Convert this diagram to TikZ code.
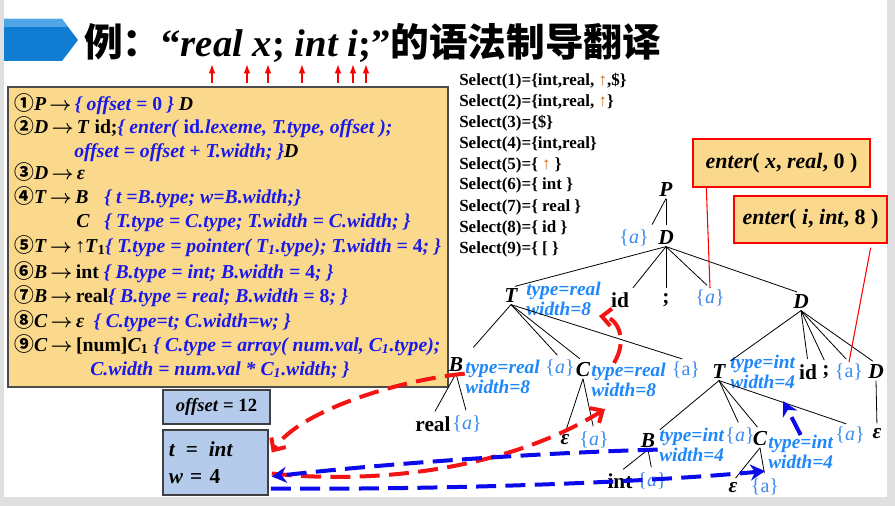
\documentclass[tikz,border=0pt]{standalone}
\usepackage{fontspec}
\setmainfont{Liberation Serif}
\newfontfamily\cjk{Noto Sans CJK SC}
\usetikzlibrary{arrows.meta,positioning,calc}

\definecolor{boxorange}{RGB}{250,216,140}
\definecolor{boxblue}{RGB}{180,203,235}
\definecolor{actblue}{RGB}{25,25,235}
\definecolor{attrblue}{RGB}{30,135,250}
\definecolor{setblue}{RGB}{60,140,240}
\definecolor{hdblue}{RGB}{15,125,210}
\definecolor{hdlight}{RGB}{80,165,230}
\definecolor{dashred}{RGB}{245,20,20}
\definecolor{dashblue}{RGB}{10,10,235}
\definecolor{selarrow}{RGB}{205,110,30}

\newcommand{\act}[1]{\textcolor{actblue}{\itshape #1}}
\newcommand{\cn}[1]{{\cjk\bfseries #1}}
\newcommand{\cnum}[1]{{\cjk\bfseries #1}}
\newcommand{\up}[1]{\textup{#1}}
\newcommand{\goesto}{\,{\boldmath$\rightarrow$}\,}

\begin{document}
\begin{tikzpicture}[x=0.75pt, y=-0.75pt,
  rule/.style={anchor=base west, inner sep=0pt, font=\bfseries\fontsize{14.8}{18}\selectfont},
  sel/.style={anchor=base west, inner sep=0pt, font=\bfseries\fontsize{12.75}{15}\selectfont},
  nt/.style={inner sep=1pt, font=\bfseries\itshape\fontsize{16}{16}\selectfont},
  term/.style={inner sep=1pt, font=\bfseries\fontsize{16}{16}\selectfont},
  sem/.style={inner sep=1pt, text=setblue, font=\fontsize{15}{15}\selectfont},
  attr/.style={anchor=west, inner sep=0pt, align=left, text=attrblue, font=\bfseries\itshape\fontsize{14.5}{15}\selectfont},
  branch/.style={line width=0.6pt, shorten >=3pt},
  enterbox/.style={draw=red, line width=1pt, fill=boxorange, inner sep=0pt, font=\bfseries\fontsize{16.5}{16.5}\selectfont},
  valbox/.style={draw=black!75, line width=1.2pt, fill=boxblue, inner sep=0pt},
  tokarr/.style={red, line width=1.1pt, -{Latex[length=7pt,width=5pt]}},
  rdash/.style={dashred, line width=3pt, dash pattern=on 15pt off 7pt, -{Straight Barb[length=7pt,width=13pt]}},
  bdash/.style={dashblue, line width=3pt, dash pattern=on 15pt off 7pt, -{Stealth[length=11pt,width=12pt]}}
]
\useasboundingbox (0,0) rectangle (895,506);
\fill[black!12] (0,0) rectangle (895,506);
\fill[white] (4,0) rectangle (887,497);

% title
\fill[hdblue] (4,19) -- (62,19) -- (78,40) -- (62,61) -- (4,61) -- cycle;
\fill[hdlight] (4,19) -- (62,19) -- (68,27) -- (4,27) -- cycle;
\node[anchor=base west, inner sep=0pt, font=\bfseries\fontsize{29}{29}\selectfont] (title) at (84,57)
  {\cn{例：}“\textit{real x}; \textit{int i};”\cn{的语法制导翻译}};
\foreach \x in {212,247,268,302,338,353,366}
  \draw[tokarr] (\x,83) -- (\x,64);

% productions
\draw[draw=black!70, line width=1.5pt, fill=boxorange] (8,87) rectangle (448,387);
\node[rule] (r1) at (14,111) {\cnum{①}\textit{P}\goesto\act{\{ offset = \up{0} \}} \textit{D}};
\node[rule] (r2) at (14,134) {\cnum{②}\textit{D}\goesto\textit{T} id;\act{\{ enter( \up{id}.lexeme, T.type, offset );}};
\node[rule] (r3) at (74,157) {\act{offset = offset + T.width; \}}\textit{D}};
\node[rule] (r4) at (14,180) {\cnum{③}\textit{D}\goesto\textit{ε}};
\node[rule] (r5) at (14,203) {\cnum{④}\textit{T}\goesto\textit{B}};
\node[rule] (r5a) at (104,203) {\act{\{ t =B.type; w=B.width;\}}};
\node[rule] (r6) at (76,227) {\textit{C}};
\node[rule] (r6a) at (104,227) {\act{\{ T.type = C.type; T.width = C.width; \}}};
\node[rule] (r7) at (14,252) {\cnum{⑤}\textit{T}\goesto↑\textit{T}\textsubscript{1}\act{\{ T.type = pointer( T\textsubscript{1}.type); T.width = \up{4}; \}}};
\node[rule] (r8) at (14,278) {\cnum{⑥}\textit{B}\goesto int \act{\{ B.type = int; B.width = \up{4}; \}}};
\node[rule] (r9) at (14,302) {\cnum{⑦}\textit{B}\goesto real\act{\{ B.type = real; B.width = \up{8}; \}}};
\node[rule] (r10) at (14,327) {\cnum{⑧}\textit{C}\goesto\textit{ε}\enspace\act{\{ C.type=t; C.width=w; \}}};
\node[rule] (r11) at (14,351) {\cnum{⑨}\textit{C}\goesto[num]\textit{C}\textsubscript{1} \act{\{ C.type = array( num.val, C\textsubscript{1}.type);}};
\node[rule] (r12) at (90,375) {\act{C.width = num.val * C\textsubscript{1}.width; \}}};

% select sets
\node[sel] (s1) at (459,86) {Select(1)=\{int,real, \textcolor{selarrow}{↑},\$\}};
\node[sel] (s2) at (459,107) {Select(2)=\{int,real, \textcolor{selarrow}{↑}\}};
\node[sel] (s3) at (459,128) {Select(3)=\{\$\}};
\node[sel] (s4) at (459,149) {Select(4)=\{int,real\}};
\node[sel] (s5) at (459,170) {Select(5)=\{ \textcolor{selarrow}{↑} \}};
\node[sel] (s6) at (459,190) {Select(6)=\{ int \}};
\node[sel] (s7) at (459,211) {Select(7)=\{ real \}};
\node[sel] (s8) at (459,232) {Select(8)=\{ id \}};
\node[sel] (s9) at (459,253) {Select(9)=\{ [ \}};

% parse tree
\node[nt] (nP) at (666,190) {P};
\node[sem] (naP) at (634,238) {\{\textit{a}\}};
\node[nt] (nD) at (666,238) {D};
\node[nt] (nT) at (511,296) {T};
\node[attr] (nTattr) at (526,299) {type=real\\width=8};
\node[term] (nid) at (620,300) {id};
\node[term] (nsemi) at (666,300) {;};
\node[sem] (na1) at (710,298) {\{\textit{a}\}};
\node[nt] (nD2) at (801,302) {D};

\node[nt] (nB) at (456,365) {B};
\node[attr] (nBattr) at (465,377) {type=real\\width=8};
\node[sem] (na2) at (560,368) {\{\textit{a}\}};
\node[nt] (nC) at (583,370) {C};
\node[attr] (nCattr) at (591,380) {type=real\\width=8};
\node[sem] (na3) at (686,370) {\{a\}};
\node[term] (nreal) at (433,424) {real};
\node[sem] (na4) at (467,424) {\{\textit{a}\}};
\node[nt] (neps1) at (565,440) {ε};
\node[sem] (na5) at (594,440) {\{\textit{a}\}};

\node[nt] (nT2) at (719,372) {T};
\node[attr] (nT2attr) at (730,372) {type=int\\width=4};
\node[term] (nid2) at (808,372) {id};
\node[term] (nsemi2) at (826,372) {;};
\node[sem] (na6) at (849,372) {\{a\}};
\node[nt] (nD3) at (876,372) {D};
\node[nt] (neps3) at (877,434) {ε};

\node[nt] (nB2) at (648,441) {B};
\node[attr] (nB2attr) at (659,445) {type=int\\width=4};
\node[sem] (na7) at (740,436) {\{\textit{a}\}};
\node[nt] (nC2) at (760,439) {C};
\node[attr] (nC2attr) at (768,452) {type=int\\width=4};
\node[sem] (na8) at (850,435) {\{\textit{a}\}};
\node[term] (nint) at (620,481) {int};
\node[sem] (na9) at (652,481) {\{\textit{a}\}};
\node[nt] (neps2) at (733,488) {ε};
\node[sem] (na10) at (765,487) {\{a\}};

\draw[branch] (nP.south) -- (naP.north east);
\draw[branch] (nP.south) -- (nD.north);
\foreach \c in {nT.north, nid.north east, nsemi.north, na1.north, nD2.north}
  \draw[branch] (nD.south) -- (\c);
\foreach \c in {na2.north, nC.north, na3.north}
  \draw[branch] (nT.south) -- (\c);
\draw[branch] (nT.south) -- ($(nB.north east)+(6,-6)$);
\draw[branch] (nB.south) -- (nreal.north);
\draw[branch] (nB.south) -- (na4.north);
\draw[branch] (nC.south) -- (neps1.north);
\draw[branch] (nC.south) -- (na5.north);
\foreach \c in {nT2.north east, nid2.north, nsemi2.north, na6.north, nD3.north}
  \draw[branch] (nD2.south) -- (\c);
\draw[branch] (nD3.south) -- (neps3.north);
\foreach \c in {nB2.north east, na7.north, nC2.north, na8.north}
  \draw[branch] (nT2.south) -- (\c);
\draw[branch] (nB2.south) -- (nint.north);
\draw[branch] (nB2.south) -- (na9.north);
\draw[branch] (nC2.south) -- (neps2.north);
\draw[branch] (nC2.south) -- (na10.north);

% enter calls
\node[enterbox, minimum width=132.75pt, minimum height=36pt] (enter1) at (781.5,163)
  {\textit{enter}( \textit{x}, \textit{real}, 0 )};
\node[enterbox, minimum width=114.75pt, minimum height=35.25pt] (enter2) at (810.5,219.5)
  {\textit{enter}( \textit{i}, \textit{int}, 8 )};
\draw[red, line width=0.8pt] ($(enter1.south west)+(14,0)$) -- (na1.north);
\draw[red, line width=0.8pt] ($(enter2.south east)+(-17,4)$) -- (na6.north);

% values
\node[valbox, minimum width=80pt, minimum height=25.5pt, font=\bfseries\fontsize{14}{14}\selectfont] (offbox) at (216.5,407)
  {\textit{offset} = 12};
\node[valbox, minimum width=78.75pt, minimum height=48.75pt, text width=70pt, align=left, font=\bfseries\fontsize{16}{16}\selectfont] (twbox) at (215.5,462.5)
  {\textit{t}\enspace=\enspace\textit{int}\\[4pt]\textit{w} = 4};

% attribute flow
\draw[rdash] (nB.south east) .. controls (400,380) and (300,410) .. ($(twbox.east)+(3,-10)$);
\draw[rdash] ($(twbox.east)+(3,11)$) .. controls (380,485) and (510,468) .. ($(nCattr.south west)+(14,12)$);
\draw[rdash] ($(nCattr.north west)+(23,0)$) .. controls (628,340) and (618,318) .. ($(nTattr.south east)+(-2,0)$);
\draw[bdash] ($(nB2.south east)+(1,0)$) .. controls (560,452) and (400,462) .. ($(twbox.east)+(3,14)$);
\draw[bdash] ($(twbox.east)+(2,26)$) .. controls (450,490) and (650,482) .. ($(nC2attr.south west)+(-3,2)$);
\draw[bdash] (nC2attr.north) -- ($(nT2attr.south east)+(-12,12)$);

\end{tikzpicture}
\end{document}
